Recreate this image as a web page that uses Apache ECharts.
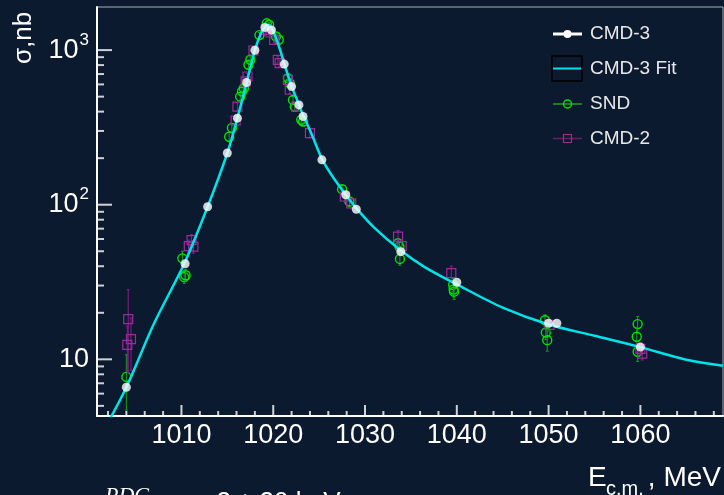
<!DOCTYPE html>
<html>
<head>
<meta charset="utf-8">
<title>phi(1020) cross section</title>
<script src="https://cdn.jsdelivr.net/npm/echarts@6/dist/echarts.min.js"></script>
<style>
  html, body { margin: 0; padding: 0; background: #0c1a2f; }
  #chart { width: 724px; height: 495px; }
</style>
</head>
<body>
<div id="chart"></div>
<script>
// CMD-3 measured cross section: [E_cm (MeV), sigma (nb)]
const cmd3 = [
  [1004.0, 6.6], [1010.4, 41.5], [1012.85, 97], [1015.0, 216], [1016.1, 363],
  [1017.1, 617], [1018.0, 997], [1019.1, 1400], [1019.8, 1350], [1021.2, 812],
  [1022.0, 581], [1022.8, 442], [1023.25, 372], [1025.3, 195], [1027.9, 116],
  [1029.05, 93.5], [1033.9, 49.7], [1040.0, 31.5], [1050.0, 17.1], [1050.9, 17.1],
  [1060.0, 12.0]
];

// CMD-3 fit curve: [E_cm (MeV), sigma (nb)]
const cmd3Fit = [
  [1002.0, 3.9], [1004.0, 6.6], [1007.0, 17.0], [1010.3, 41.5], [1012.85, 97],
  [1015.0, 216], [1016.1, 365], [1017.1, 615], [1018.0, 1000], [1018.7, 1300],
  [1019.2, 1430], [1019.5, 1460], [1019.8, 1400], [1020.3, 1200], [1020.8, 980],
  [1021.2, 815], [1022.0, 585], [1022.8, 445], [1023.25, 380], [1024.2, 285],
  [1025.3, 198], [1026.5, 151], [1027.9, 116], [1029.05, 95], [1031.0, 71],
  [1033.9, 50.5], [1036.5, 39.5], [1040.0, 30.5], [1045.0, 21.6], [1050.0, 16.8],
  [1055.0, 14.2], [1060.0, 12.0], [1065.0, 9.95], [1069.0, 9.1]
];

// SND: [E_cm (MeV), sigma (nb), error (nb)]
const snd = [
  [1004.0, 7.7, 3.0], [1010.1, 45, 5], [1010.3, 34, 3], [1010.45, 35, 3],
  [1015.2, 275, 20], [1015.5, 314, 20], [1016.4, 500, 30], [1016.6, 540, 30],
  [1016.8, 567, 30], [1017.3, 804, 40], [1017.5, 866, 40], [1018.5, 1250, 50],
  [1019.3, 1490, 50], [1019.55, 1460, 50], [1020.3, 1225, 50], [1020.6, 1166, 50],
  [1021.6, 659, 30], [1021.8, 610, 30], [1022.15, 476, 25], [1022.35, 430, 25],
  [1023.05, 354, 20], [1023.25, 345, 20], [1027.5, 126, 8], [1028.3, 105, 7],
  [1033.6, 56.3, 4], [1033.75, 53.6, 4], [1033.8, 44.6, 4], [1039.6, 30.3, 3],
  [1039.65, 28.3, 3], [1039.7, 27.4, 3], [1049.6, 17.9, 1.5], [1049.7, 14.9, 1.5],
  [1049.85, 13.3, 2], [1059.7, 16.9, 2], [1059.6, 14.0, 2], [1059.7, 11.2, 1.5]
];

// CMD-2: [E_cm (MeV), sigma (nb), error (nb)]
const cmd2 = [
  [1004.2, 18.2, 10], [1004.5, 13.5, 5], [1004.1, 12.4, 4], [1010.8, 54, 5],
  [1011.1, 59, 5], [1011.3, 53.6, 5], [1015.9, 350, 20], [1016.1, 431, 25],
  [1017.0, 627, 30], [1017.2, 675, 30], [1017.85, 994, 40], [1019.2, 1353, 50],
  [1019.7, 1300, 50], [1020.1, 1166, 50], [1020.5, 865, 40], [1020.7, 823, 40],
  [1021.6, 642, 30], [1021.8, 554, 30], [1022.5, 431, 25], [1024.0, 290, 20],
  [1027.8, 113, 8], [1028.5, 102, 7], [1033.6, 62.2, 6], [1034.0, 54, 5],
  [1039.4, 36.1, 4], [1050.1, 16.7, 1.5], [1060.2, 10.9, 1], [1060.0, 11.7, 1]
];

// Axis ranges and ticks
const xRange = [1000.8, 1069];
const yRange = [4.3, 1900];
const xMajorTicks = [1010, 1020, 1030, 1040, 1050, 1060];
const xMinorTicks = [1002, 1004, 1006, 1008, 1012, 1014, 1016, 1018, 1022, 1024,
                     1026, 1028, 1032, 1034, 1036, 1038, 1042, 1044, 1046, 1048,
                     1052, 1054, 1056, 1058, 1062, 1064, 1066, 1068];
const yMajorTicks = [10, 100, 1000];
const yMinorTicks = [5, 6, 7, 8, 9, 20, 30, 40, 50, 60, 70, 80, 90,
                     200, 300, 400, 500, 600, 700, 800, 900];

const FONT = '"Liberation Sans", Arial, sans-serif';
const SND_MARK = '#00e400', SND_BAR = '#16a016';
const CMD2_MARK = '#9b2c9b', CMD2_BAR = '#8a1f8a';
const FIT_COLOR = '#00e3e8';
const GRID = { left: 97, top: 7, right: 1, bottom: 79 };

// error bar + open marker for one measurement
function errorBarRenderer(barColor, markColor, shape) {
  return function (params, api) {
    const x = api.value(0), y = api.value(1), err = api.value(2);
    const p = api.coord([x, y]);
    const top = api.coord([x, y + err]);
    const bot = api.coord([x, Math.max(y - err, 0.5)]);
    const children = [
      { type: 'line', shape: { x1: p[0], y1: top[1], x2: p[0], y2: bot[1] },
        style: { stroke: barColor, lineWidth: 1 } },
      { type: 'line', shape: { x1: p[0] - 1.5, y1: top[1], x2: p[0] + 1.5, y2: top[1] },
        style: { stroke: barColor, lineWidth: 1 } },
      { type: 'line', shape: { x1: p[0] - 1.5, y1: bot[1], x2: p[0] + 1.5, y2: bot[1] },
        style: { stroke: barColor, lineWidth: 1 } }
    ];
    if (shape === 'circle') {
      children.push({ type: 'circle', shape: { cx: p[0], cy: p[1], r: 4.5 },
        style: { fill: 'none', stroke: markColor, lineWidth: 1.4 } });
    } else {
      children.push({ type: 'rect', shape: { x: p[0] - 4.5, y: p[1] - 4.5, width: 9, height: 9 },
        style: { fill: 'none', stroke: markColor, lineWidth: 1.2 } });
    }
    return { type: 'group', children };
  };
}

// Tick marks drawn as small bar-shaped symbols anchored on the axes:
// y ticks sit at the left end of the x range, x ticks at the bottom of the y range.
function tickSeries(name, data, size, offset) {
  return {
    name, type: 'scatter', data, clip: false, silent: true,
    symbol: 'rect', symbolSize: size, symbolOffset: offset,
    itemStyle: { color: '#ffffff' }, z: 5
  };
}

function isPow10(v) {
  const l = Math.log10(v);
  return Math.abs(l - Math.round(l)) < 1e-6;
}

function textStyle(text, font, align, fill) {
  return { text, font, fill: fill || '#ffffff',
           align, verticalAlign: 'middle', textAlign: align, textVerticalAlign: 'middle' };
}

const chart = echarts.init(document.getElementById('chart'), null, { renderer: 'canvas' });

const option = {
  animation: false,
  backgroundColor: '#0c1a2f',
  grid: Object.assign({
    show: true, borderColor: '#a9adb4', borderWidth: 1, backgroundColor: 'transparent'
  }, GRID),
  xAxis: {
    type: 'value',
    min: xRange[0], max: xRange[1],
    axisLine: { lineStyle: { color: '#ffffff', width: 2 } },
    axisTick: { show: false },
    axisLabel: { customValues: xMajorTicks, color: '#ffffff', fontSize: 27,
                 fontFamily: FONT, margin: 6, formatter: v => String(v) },
    splitLine: { show: false }
  },
  yAxis: {
    type: 'log', logBase: 10,
    min: yRange[0], max: yRange[1],
    axisLine: { lineStyle: { color: '#ffffff', width: 2 } },
    axisTick: { show: false },
    splitLine: { show: false },
    axisLabel: {
      showMinLabel: false, showMaxLabel: false,
      margin: 8,
      formatter: function (v) {
        if (!isPow10(v)) return '';
        const p = Math.round(Math.log10(v));
        return p === 1 ? '{b|10}' : '{b|10}{s|' + p + '}';
      },
      rich: {
        b: { fontSize: 27, color: '#ffffff', fontFamily: FONT },
        s: { fontSize: 17, color: '#ffffff', fontFamily: FONT, padding: [0, 0, 20, 1] }
      }
    }
  },
  series: [
    {
      name: 'SND', type: 'custom', clip: true,
      renderItem: errorBarRenderer(SND_BAR, SND_MARK, 'circle'),
      encode: { x: 0, y: 1 }, data: snd, z: 2
    },
    {
      name: 'CMD-2', type: 'custom', clip: true,
      renderItem: errorBarRenderer(CMD2_BAR, CMD2_MARK, 'rect'),
      encode: { x: 0, y: 1 }, data: cmd2, z: 2
    },
    {
      name: 'CMD-3 Fit', type: 'line', data: cmd3Fit, showSymbol: false,
      smooth: 0.3, clip: true,
      lineStyle: { color: FIT_COLOR, width: 2.5 }, z: 3
    },
    {
      name: 'CMD-3', type: 'scatter', data: cmd3, symbol: 'circle', symbolSize: 9,
      itemStyle: { color: '#ffffff' }, z: 4
    },
    tickSeries('y major ticks', yMajorTicks.map(v => [xRange[0], v]), [15, 2], [7.5, 0]),
    tickSeries('y minor ticks', yMinorTicks.map(v => [xRange[0], v]), [7, 2], [3.5, 0]),
    tickSeries('x major ticks', xMajorTicks.map(v => [v, yRange[0]]), [2, 11], [0, -5.5]),
    tickSeries('x minor ticks', xMinorTicks.map(v => [v, yRange[0]]), [2, 5], [0, -2.5])
  ],
  graphic: [
    // axis titles
    { type: 'text', x: 24, y: 38, rotation: Math.PI / 2, style: textStyle('σ,nb', '26px ' + FONT, 'center') },
    { type: 'text', x: 588, y: 478, style: textStyle('E', '28px ' + FONT, 'left') },
    { type: 'text', x: 606, y: 489, style: textStyle('c.m.', '20px ' + FONT, 'left') },
    { type: 'text', x: 721, y: 478, style: textStyle(', MeV', '28px ' + FONT, 'right') },
    // energy-scale note below the axis
    { type: 'text', x: 105, y: 496, style: textStyle('PDG', 'italic 22px "Liberation Serif", serif', 'left') },
    { type: 'text', x: 194, y: 503, style: textStyle('= 2 ± 20 keV', '26px ' + FONT, 'left') },
    // legend
    { type: 'group', children: [
      { type: 'line', shape: { x1: 553, y1: 34, x2: 582, y2: 34 }, style: { stroke: '#ffffff', lineWidth: 3 } },
      { type: 'circle', shape: { cx: 567.5, cy: 34, r: 4 }, style: { fill: '#ffffff' } },
      { type: 'text', x: 590, y: 34, style: textStyle('CMD-3', '19px ' + FONT, 'left', '#e8e8e8') },

      { type: 'rect', shape: { x: 552, y: 56, width: 30, height: 25 }, style: { fill: 'none', stroke: '#000000', lineWidth: 1.5 } },
      { type: 'line', shape: { x1: 553, y1: 68.5, x2: 581, y2: 68.5 }, style: { stroke: FIT_COLOR, lineWidth: 2 } },
      { type: 'text', x: 590, y: 68.5, style: textStyle('CMD-3 Fit', '19px ' + FONT, 'left', '#e8e8e8') },

      { type: 'line', shape: { x1: 553, y1: 104, x2: 582, y2: 104 }, style: { stroke: '#227a22', lineWidth: 2 } },
      { type: 'circle', shape: { cx: 567.5, cy: 104, r: 4 }, style: { fill: 'none', stroke: SND_MARK, lineWidth: 1.5 } },
      { type: 'text', x: 590, y: 104, style: textStyle('SND', '19px ' + FONT, 'left', '#e8e8e8') },

      { type: 'line', shape: { x1: 553, y1: 138.5, x2: 582, y2: 138.5 }, style: { stroke: '#6a1c6a', lineWidth: 1.5 } },
      { type: 'rect', shape: { x: 563.5, y: 134.5, width: 8, height: 8 }, style: { fill: 'none', stroke: CMD2_MARK, lineWidth: 1.2 } },
      { type: 'text', x: 590, y: 138.5, style: textStyle('CMD-2', '19px ' + FONT, 'left', '#e8e8e8') }
    ] }
  ]
};

chart.setOption(option);
</script>
</body>
</html>
